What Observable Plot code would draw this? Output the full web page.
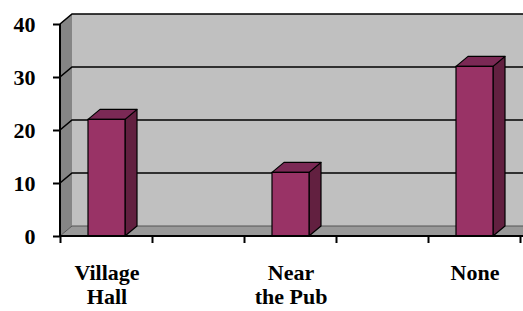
<!DOCTYPE html>
<html><head><meta charset="utf-8">
<script src="https://cdn.jsdelivr.net/npm/d3@7"></script>
<script src="https://cdn.jsdelivr.net/npm/@observablehq/plot@0.6"></script>
<style>
body{margin:0;background:#fff}
svg{display:block}
svg text, svg tspan{font-family:"Liberation Serif","Times New Roman",serif !important;font-weight:bold}
</style>
</head><body><div id="chart"></div>
<script>
const categories = ["Village Hall", "Near the Pub", "None"];
const tickLabels = ["Village\nHall", "Near\nthe Pub", "None"];
const values = [22, 12, 32];
const yTicks = [0, 10, 20, 30, 40];

const data = categories.map((c, i) => ({category: c, value: values[i]}));
const DX = 12, DY = -10;
const FONT = "Liberation Serif";
const pts = a => a.map(p => p.join(",")).join(" ");

function walls(index, {x, y}, values, dims) {
  const {width, marginLeft} = dims;
  const g = d3.create("svg:g");
  const x0 = marginLeft, y0 = y(0), yTop = y(d3.max(yTicks));
  g.append("polygon").attr("points", pts([[x0,yTop],[x0+DX,yTop+DY],[x0+DX,y0+DY],[x0,y0]])).attr("fill","#858585");
  g.append("rect").attr("x", x0+DX).attr("y", yTop+DY).attr("width", width - x0 - DX).attr("height", y0 - yTop).attr("fill", "#c0c0c0");
  g.append("polygon").attr("points", pts([[x0,y0],[x0+DX,y0+DY],[width,y0+DY],[width,y0]])).attr("fill","#999999");
  for (const t of yTicks) {
    const yy = y(t);
    const col = t === 0 ? "#555" : "#000";
    const sw = t === 0 ? 1 : 1.6;
    g.append("polyline").attr("points", pts([[x0,yy],[x0+DX,yy+DY],[width,yy+DY]]))
      .attr("fill","none").attr("stroke",col).attr("stroke-width",sw);
  }
  return g.node();
}

function barFaces(index, {x, y}) {
  const g = d3.create("svg:g").attr("stroke","#000").attr("stroke-width",1.2).attr("stroke-linejoin","round");
  const bw = x.bandwidth();
  for (const d of data) {
    const xa = x(d.category), xb = xa + bw, yt = y(d.value), yb = y(0);
    g.append("polygon").attr("points", pts([[xb,yt],[xb+DX,yt+DY],[xb+DX,yb+DY],[xb,yb]])).attr("fill","#622040");
    g.append("polygon").attr("points", pts([[xa,yt],[xa+DX,yt+DY],[xb+DX,yt+DY],[xb,yt]])).attr("fill","#7b2955");
  }
  return g.node();
}

function frontAxes(index, {x, y}, values, dims) {
  const {width, marginLeft} = dims;
  const g = d3.create("svg:g").attr("stroke","#000").attr("stroke-width",2);
  const y0 = y(0);
  g.append("line").attr("x1", marginLeft).attr("x2", width).attr("y1", y0).attr("y2", y0);
  g.append("line").attr("x1", marginLeft).attr("x2", marginLeft).attr("y1", y(d3.max(yTicks))).attr("y2", y0);
  const bw = x.bandwidth(), step = x.step();
  for (const c of categories) {
    const cx = x(c) + bw / 2;
    for (const tx of [cx - step / 4, cx + step / 4]) {
      g.append("line").attr("x1", tx).attr("x2", tx).attr("y1", y0).attr("y2", y0 + 7);
    }
  }
  return g.node();
}

const chart = Plot.plot({
  width: 523,
  height: 311,
  marginLeft: 60,
  marginRight: 2,
  marginTop: 24,
  marginBottom: 75,
  style: "font-family: 'Liberation Serif', serif; font-weight: bold; background: #fff;",
  x: {type: "band", domain: categories, paddingInner: 0.797, paddingOuter: 0.1465, label: null},
  y: {domain: [0, 40], label: null},
  marks: [
    walls,
    barFaces,
    Plot.barY(data, {x: "category", y: "value", fill: "#993366", stroke: "#000", strokeWidth: 1.2}),
    frontAxes,
    Plot.axisY(yTicks, {tickSize: 7, tickPadding: 18, strokeWidth: 2, fontSize: 22, fontWeight: "bold", fontFamily: FONT, fill: "#000", label: null}),
    Plot.axisX({tickSize: 0, tickPadding: 26, tickFormat: d => tickLabels[categories.indexOf(d)], lineHeight: 1.1, fontSize: 22, fontWeight: "bold", fontFamily: FONT, fill: "#000", label: null})
  ]
});
chart.setAttribute("font-family", FONT);
chart.querySelectorAll("text, tspan").forEach(t => t.style.setProperty("font-family", "'Liberation Serif', serif", "important"));
document.getElementById("chart").append(chart);
</script>
</body></html>
